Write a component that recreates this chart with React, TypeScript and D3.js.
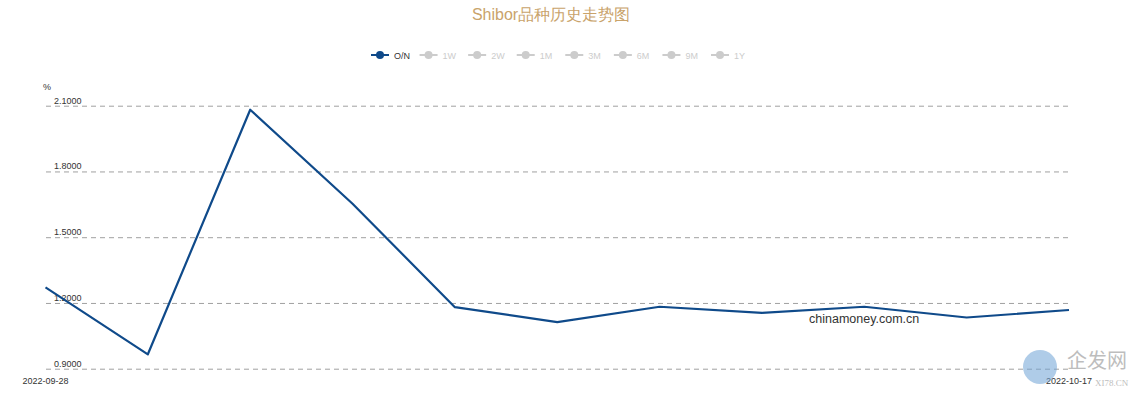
import React from "react";
import * as d3 from "d3";

const dates = ["2022-09-28","2022-09-29","2022-09-30","2022-10-08","2022-10-09","2022-10-10","2022-10-11","2022-10-12","2022-10-13","2022-10-14","2022-10-17"];
const onValues = [1.273, 0.968, 2.084, 1.655, 1.183, 1.115, 1.185, 1.157, 1.185, 1.136, 1.17];
const yTicks = [0.9, 1.2, 1.5, 1.8, 2.1];
const legendItems = ["O/N", "1W", "2W", "1M", "3M", "6M", "9M", "1Y"];

const W = 1137, H = 405;
const FONT = "'Liberation Sans', Arial, sans-serif";

export default function App() {
  const x = d3.scalePoint<string>().domain(dates).range([45.5, 1069]);
  const y = d3.scaleLinear().domain([0.9, 2.1]).range([369.2, 106.2]);
  const line = d3.line<number>().x((_, i) => x(dates[i]) as number).y(d => y(d));
  const legendX = d3.scaleLinear().domain([0, legendItems.length - 1]).range([380, 720]);
  const lastIdx = dates.length - 1;
  return (
    <svg width={W} height={H} style={{ position: "absolute", left: 0, top: 0, background: "#fff" }} fontFamily={FONT}>
      <text x={551} y={20} textAnchor="middle" fontSize={16} fill="#c9a36b">Shibor品种历史走势图</text>
      {legendItems.map((name, i) => {
        const cx = legendX(i);
        const active = i === 0;
        const c = active ? "#0f4a8a" : "#cccccc";
        return (
          <g key={name}>
            <line x1={cx - 9} x2={cx + 9} y1={55} y2={55} stroke={c} strokeWidth={2} />
            <circle cx={cx} cy={55} r={4} fill={c} />
            <text x={cx + 14} y={58.5} fontSize={9} fill={active ? "#333" : "#cccccc"}>{name}</text>
          </g>
        );
      })}
      <text x={43} y={90} fontSize={9} fill="#333">%</text>
      {yTicks.map(t => (
        <g key={t}>
          <line x1={46} x2={1069} y1={y(t)} y2={y(t)} stroke="#a0a0a0" strokeDasharray="5,4" strokeWidth={1} />
          <text x={54} y={y(t) - 2.5} fontSize={9} fill="#333">{t.toFixed(4)}</text>
        </g>
      ))}
      <path d={line(onValues) || ""} fill="none" stroke="#0f4a8a" strokeWidth={2.2} strokeLinejoin="round" />
      <text x={x(dates[0])} y={384} fontSize={9} fill="#333" textAnchor="middle">{dates[0]}</text>
      <text x={x(dates[lastIdx])} y={384} fontSize={9} fill="#333" textAnchor="middle">{dates[lastIdx]}</text>
      <text x={809} y={323} fontSize={12.5} fill="#333">chinamoney.com.cn</text>
      <g opacity={0.55}>
        <ellipse cx={1040} cy={367} rx={17} ry={17} fill="#6fa3d6" />
        <text x={1067} y={368} fontSize={20} fill="#888" fontFamily="'Noto Sans CJK SC', sans-serif">企发网</text>
        <text x={1095} y={386} fontSize={9} fill="#888" fontFamily="'Liberation Serif', serif">XI78.CN</text>
      </g>
    </svg>
  );
}
